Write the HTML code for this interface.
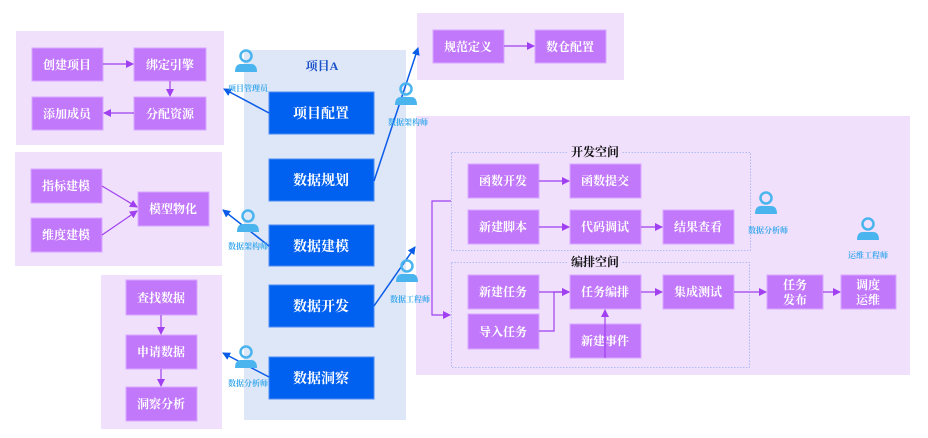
<!DOCTYPE html>
<html><head><meta charset="utf-8"><style>
html,body{margin:0;padding:0;background:#fff;width:928px;height:438px;overflow:hidden}
svg text{font-family:"Liberation Serif","Noto Serif CJK SC",serif;font-weight:bold}
</style></head><body>
<svg width="928" height="438" viewBox="0 0 928 438" xmlns="http://www.w3.org/2000/svg">
<defs>
<marker id="pa" markerWidth="8" markerHeight="8" refX="7" refY="4" orient="auto" markerUnits="userSpaceOnUse"><path d="M0,0 L8,4 L0,8 Z" fill="#a040f0"/></marker>
<marker id="ba" markerWidth="8" markerHeight="8" refX="7" refY="4" orient="auto" markerUnits="userSpaceOnUse"><path d="M0,0 L8,4 L0,8 Z" fill="#0a5ce8"/></marker>
<g id="person"><circle cx="0" cy="-6" r="5.5" fill="none" stroke="#4ab4ee" stroke-width="2.5"/><path d="M-11,10 Q-11,2 -5,2 L5,2 Q11,2 11,10 Z" fill="#4ab4ee"/></g>
</defs>
<rect x="16" y="31" width="208" height="114" fill="#f0e0fc"/>
<rect x="15" y="152" width="207" height="114" fill="#f0e0fc"/>
<rect x="101" y="275" width="121" height="154" fill="#f0e0fc"/>
<rect x="244" y="50" width="162" height="370" fill="#dde7f8"/>
<rect x="417" y="13" width="207" height="67" fill="#f0e0fc"/>
<rect x="416" y="116" width="494" height="259" fill="#f0e0fc"/>
<rect x="451.5" y="152.5" width="299" height="98" fill="none" stroke="#9ab0f2" stroke-width="0.8" stroke-dasharray="1.5,1.5"/>
<rect x="451.5" y="262.5" width="298" height="105" fill="none" stroke="#9ab0f2" stroke-width="0.8" stroke-dasharray="1.5,1.5"/>
<rect x="568" y="146" width="54" height="12" fill="#f0e0fc"/>
<rect x="568" y="256" width="54" height="12" fill="#f0e0fc"/>
<g font-size="12" fill="#111" text-anchor="middle">
<text x="595" y="156">开发空间</text><text x="595" y="266">编排空间</text>
</g>
<text x="322" y="70" font-size="12" fill="#1a50c8" text-anchor="middle">项目A</text>

<g fill="#c178fb" stroke="#d9a8ff" stroke-width="1">
<rect x="32" y="48" width="71" height="33"/><rect x="134" y="48" width="72" height="33"/>
<rect x="32" y="97" width="71" height="33"/><rect x="134" y="97" width="72" height="33"/>
<rect x="31" y="169" width="71" height="34"/><rect x="31" y="218" width="71" height="34"/><rect x="138" y="192" width="71" height="34"/>
<rect x="126" y="280" width="71" height="35"/><rect x="126" y="335" width="71" height="34"/><rect x="126" y="387" width="71" height="34"/>
<rect x="433" y="30" width="71" height="33"/><rect x="535" y="30" width="71" height="33"/>
<rect x="468" y="164" width="71" height="34"/><rect x="570" y="164" width="71" height="34"/>
<rect x="468" y="210" width="71" height="34"/><rect x="570" y="210" width="71" height="34"/><rect x="663" y="210" width="71" height="34"/>
<rect x="468" y="275" width="71" height="34"/><rect x="468" y="314" width="71" height="35"/>
<rect x="570" y="275" width="71" height="34"/><rect x="663" y="275" width="71" height="34"/><rect x="570" y="324" width="71" height="34"/>
<rect x="767" y="275" width="56" height="34"/><rect x="841" y="275" width="55" height="34"/>
</g>
<g font-size="12" fill="#fff" text-anchor="middle">
<text x="67" y="69">创建项目</text><text x="170" y="69">绑定引擎</text>
<text x="67" y="118">添加成员</text><text x="170" y="118">分配资源</text>
<text x="66" y="190">指标建模</text><text x="66" y="239">维度建模</text><text x="173" y="213">模型物化</text>
<text x="161" y="302">查找数据</text><text x="161" y="356">申请数据</text><text x="161" y="408">洞察分析</text>
<text x="468" y="51">规范定义</text><text x="570" y="51">数仓配置</text>
<text x="503" y="185">函数开发</text><text x="605" y="185">函数提交</text>
<text x="503" y="231">新建脚本</text><text x="605" y="231">代码调试</text><text x="698" y="231">结果查看</text>
<text x="503" y="296">新建任务</text><text x="503" y="336">导入任务</text>
<text x="605" y="296">任务编排</text><text x="698" y="296">集成测试</text><text x="605" y="345">新建事件</text>
<text x="795" y="289">任务</text><text x="795" y="304">发布</text>
<text x="868" y="289">调度</text><text x="868" y="304">运维</text>
</g>

<g fill="#0060f0" stroke="#4d8cf5" stroke-width="1">
<rect x="269" y="92" width="105" height="42"/><rect x="269" y="159" width="105" height="42"/>
<rect x="269" y="225" width="105" height="41"/><rect x="269" y="285" width="105" height="42"/>
<rect x="269" y="357" width="105" height="42"/>
</g>
<g font-size="14" fill="#fff" text-anchor="middle">
<text x="321" y="118">项目配置</text><text x="321" y="185">数据规划</text>
<text x="321" y="251">数据建模</text><text x="321" y="311">数据开发</text><text x="321" y="383">数据洞察</text>
</g>

<g stroke="#a040f0" stroke-width="1.2" fill="none" marker-end="url(#pa)">
<path d="M103,64 H133"/><path d="M170,81 V96"/><path d="M134,113 H104"/>
<path d="M102,186 L137,207"/><path d="M102,235 L137,211"/>
<path d="M161,315 V334"/><path d="M161,369 V386"/>
<path d="M504,46 H534"/>
<path d="M539,181 H569"/><path d="M539,227 H569"/><path d="M641,227 H662"/>
<path d="M539,292 H569"/><path d="M539,331 H554 V292 H569"/>
<path d="M641,292 H662"/><path d="M605,358 V310"/><path d="M734,292 H766"/><path d="M823,292 H840"/>
<path d="M451,201 H432 V315 H450"/>
</g>
<g stroke="#0a5ce8" stroke-width="1.5" fill="none" marker-end="url(#ba)">
<path d="M269,113 L224,89"/><path d="M374,181 L418,48"/><path d="M269,246 L223,210"/>
<path d="M374,306 L415,247"/><path d="M269,377 L223,353"/>
</g>
<use href="#person" x="246" y="62"/><use href="#person" x="406" y="95"/>
<use href="#person" x="248" y="222"/><use href="#person" x="407" y="272"/>
<use href="#person" x="246" y="358"/><use href="#person" x="766" y="204"/>
<use href="#person" x="868" y="230"/>
<g font-size="8" fill="#3aa8ec" text-anchor="middle">
<text x="248" y="91">项目管理员</text><text x="408" y="125">数据架构师</text>
<text x="248" y="249">数据架构师</text><text x="410" y="302">数据工程师</text>
<text x="248" y="386">数据分析师</text><text x="768" y="233">数据分析师</text>
<text x="868" y="258">运维工程师</text>
</g>
</svg>
</body></html>
